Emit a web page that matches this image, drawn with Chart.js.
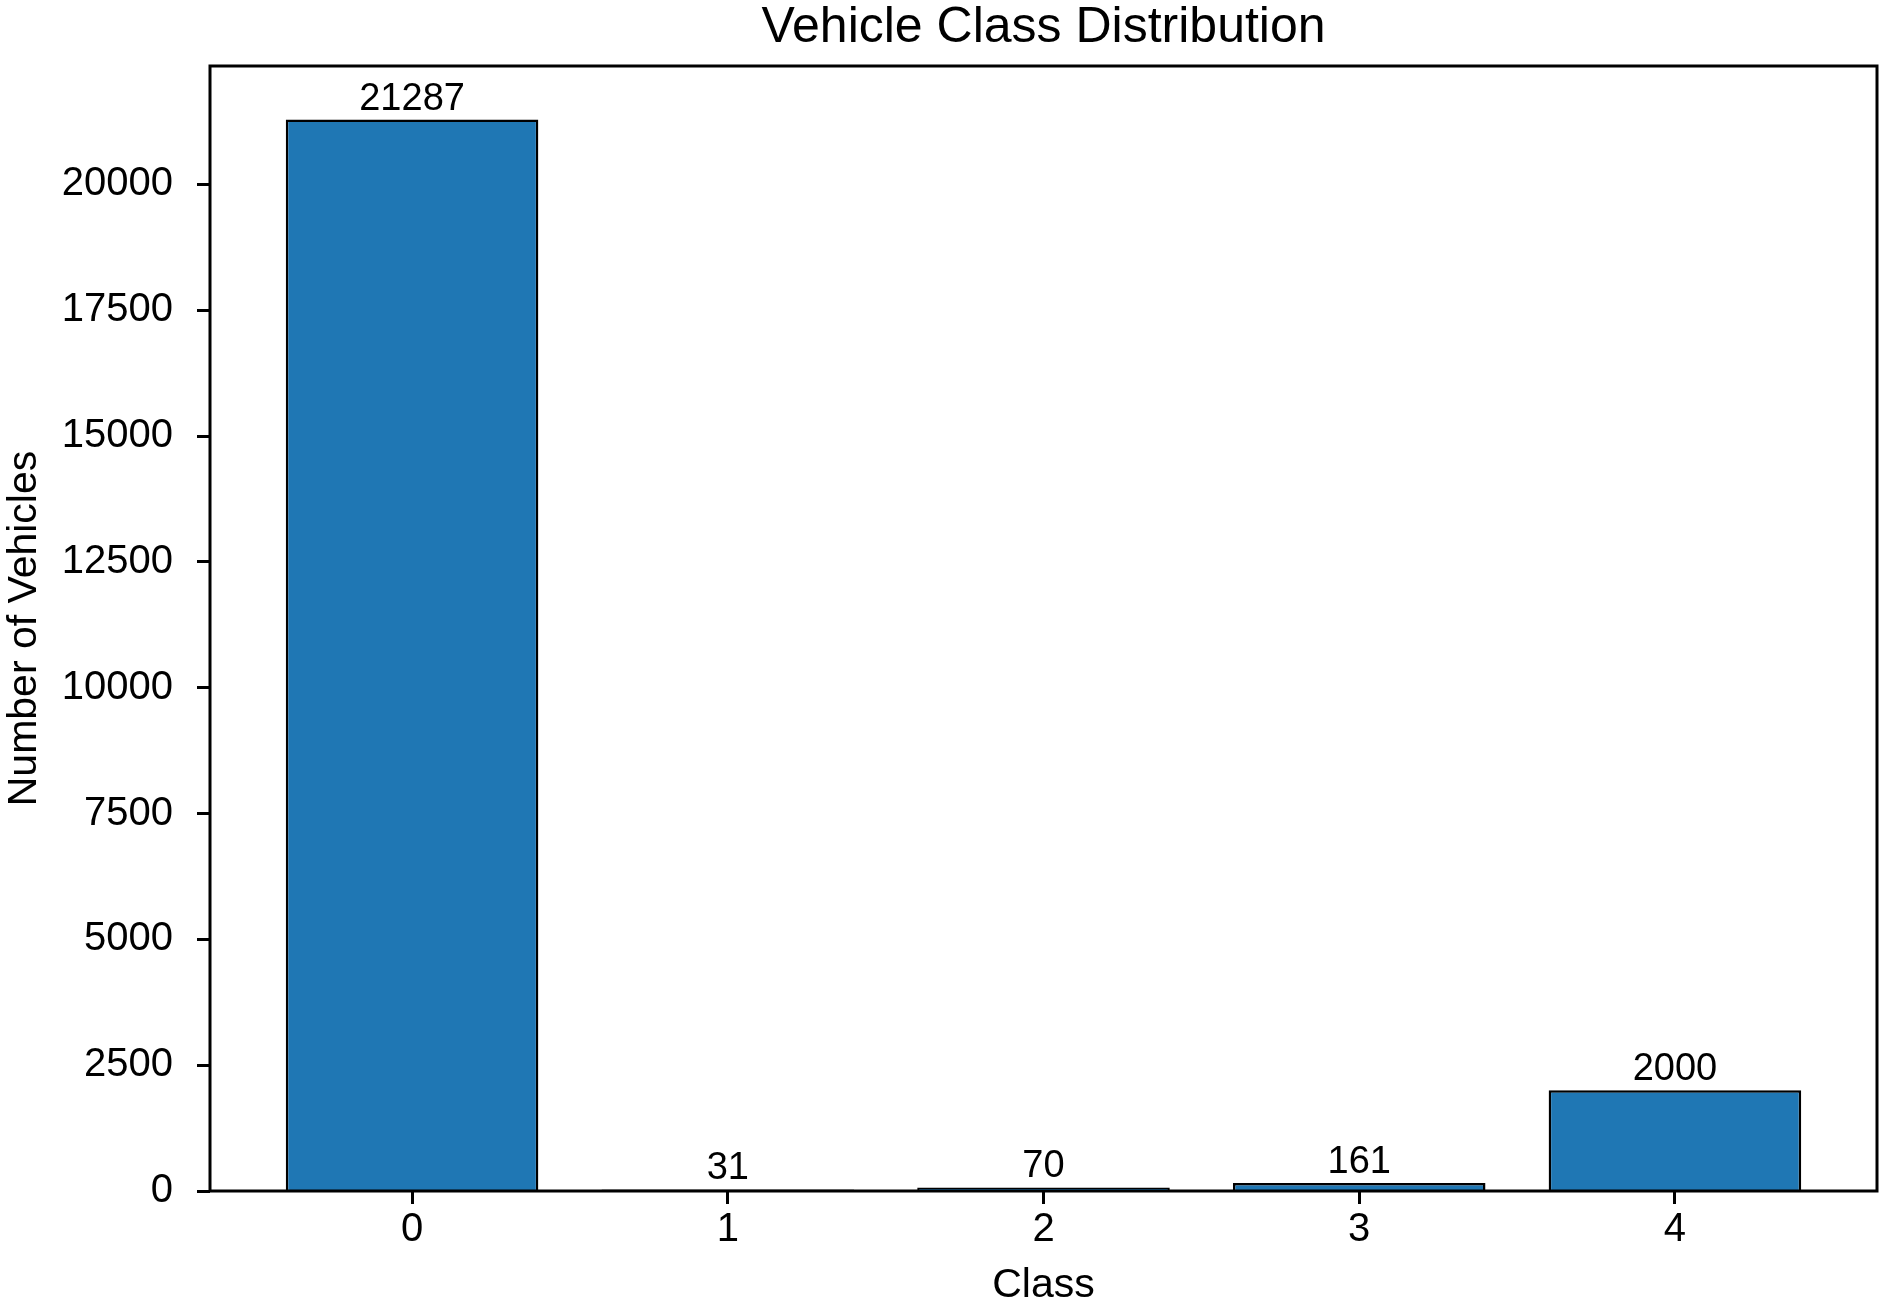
<!DOCTYPE html>
<html>
<head>
<meta charset="utf-8">
<title>Vehicle Class Distribution</title>
<script src="https://cdn.jsdelivr.net/npm/chart.js@4.4.1/dist/chart.umd.min.js"></script>
<style>
  html, body { margin: 0; padding: 0; background: #fff; overflow: hidden; }
  #wrap { width: 1883px; height: 1306px; position: relative; }
</style>
</head>
<body>
<div id="wrap"><canvas id="class-chart"></canvas></div>
<script>
// data
const classes = [0, 1, 2, 3, 4]
const vehicleCounts = [21287, 31, 70, 161, 2000]
const yTicks = [0, 2500, 5000, 7500, 10000, 12500, 15000, 17500, 20000]
const yMax = 22351
const xMin = -0.64
const xMax = 4.64

const titleText = 'Vehicle Class Distribution'
const xTitle = 'Class'
const yTitle = 'Number of Vehicles'

const FONT = '"Liberation Sans", Arial, Helvetica, sans-serif'

// title centred over the plot area, plus the box frame and value labels
const decorations = {
  id: 'decorations',
  afterDraw (chart) {
    const { ctx, chartArea } = chart
    ctx.save()

    // axes frame (all four spines)
    ctx.strokeStyle = '#000'
    ctx.lineWidth = 3
    ctx.strokeRect(chartArea.left, chartArea.top, chartArea.right - chartArea.left, chartArea.bottom - chartArea.top)

    // title
    ctx.fillStyle = '#000'
    ctx.font = '50px ' + FONT
    ctx.textAlign = 'center'
    ctx.textBaseline = 'alphabetic'
    ctx.fillText(titleText, (chartArea.left + chartArea.right) / 2, 42)

    // bar labels
    ctx.font = '38px ' + FONT
    const meta = chart.getDatasetMeta(0)
    meta.data.forEach((bar, i) => {
      ctx.fillText(String(vehicleCounts[i]), bar.x, bar.y - 10)
    })
    ctx.restore()
  }
}

const ctx = document.getElementById('class-chart').getContext('2d')
const classChart = new Chart(ctx, {
  type: 'bar',
  data: {
    datasets: [
      {
        data: classes.map((c, i) => ({ x: c, y: vehicleCounts[i] })),
        backgroundColor: '#1f77b4',
        borderColor: '#000',
        borderWidth: 2.5,
        categoryPercentage: 0.8,
        barPercentage: 1.0
      }
    ]
  },
  options: {
    responsive: true,
    maintainAspectRatio: false,
    animation: false,
    devicePixelRatio: 1,
    layout: {
      padding: { top: 66, right: 6, bottom: 0, left: 0 }
    },
    plugins: {
      legend: { display: false },
      title: { display: false },
      tooltip: { enabled: false }
    },
    scales: {
      x: {
        type: 'linear',
        offset: false,
        min: xMin,
        max: xMax,
        afterBuildTicks (scale) {
          scale.ticks = classes.map(v => ({ value: v }))
        },
        afterFit (scale) {
          scale.height = 115
        },
        grid: {
          offset: false,
          drawOnChartArea: false,
          drawTicks: true,
          tickLength: 13,
          tickWidth: 3,
          tickColor: '#000'
        },
        border: { display: false },
        ticks: {
          color: '#000',
          padding: 2,
          font: { family: FONT, size: 40 },
          callback: v => String(v)
        },
        title: {
          display: true,
          text: xTitle,
          color: '#000',
          padding: 0,
          font: { family: FONT, size: 41, lineHeight: 1 }
        }
      },
      y: {
        min: 0,
        max: yMax,
        afterBuildTicks (scale) {
          scale.ticks = yTicks.map(v => ({ value: v }))
        },
        afterFit (scale) {
          scale.width = 210
        },
        grid: {
          drawOnChartArea: false,
          drawTicks: true,
          tickLength: 13,
          tickWidth: 3,
          tickColor: '#000'
        },
        border: { display: false },
        ticks: {
          color: '#000',
          padding: 24,
          font: { family: FONT, size: 40 },
          callback: v => String(v)
        },
        title: {
          display: true,
          text: yTitle,
          color: '#000',
          padding: 0,
          font: { family: FONT, size: 41, lineHeight: 1.2 }
        }
      }
    }
  },
  plugins: [decorations]
})
</script>
</body>
</html>
